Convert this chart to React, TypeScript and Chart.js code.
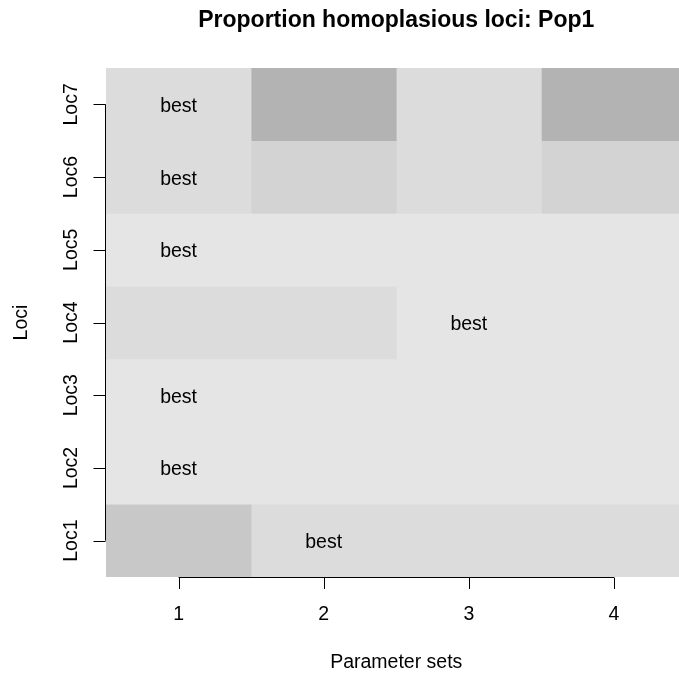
import React, { useEffect, useRef } from "react";
import { Chart, registerables } from "chart.js";

Chart.register(...registerables);

// ---- data ----
const parameterSets = [1, 2, 3, 4];
const loci = ["Loc1", "Loc2", "Loc3", "Loc4", "Loc5", "Loc6", "Loc7"];
// proportion of homoplasious loci (rows = loci, columns = parameter sets)
const loc1 = [0.3, 0.1, 0.1, 0.1];
const loc2 = [0, 0, 0, 0];
const loc3 = [0, 0, 0, 0];
const loc4 = [0.1, 0.1, 0, 0];
const loc5 = [0, 0, 0, 0];
const loc6 = [0.1, 0.2, 0.1, 0.2];
const loc7 = [0.1, 0.5, 0.1, 0.5];
const proportions = [loc1, loc2, loc3, loc4, loc5, loc6, loc7];
// parameter set marked "best" for each locus
const bestSet = [2, 1, 1, 3, 1, 1, 1];
// grey scale
const greyLevels = [0, 0.1, 0.2, 0.3, 0.5];
const greyColors = ["#E5E5E5", "#DCDCDC", "#D3D3D3", "#C8C8C8", "#B3B3B3"];

const titleText = "Proportion homoplasious loci: Pop1";
const xTitle = "Parameter sets";
const yTitle = "Loci";

const FONT = '"Liberation Sans", Arial, Helvetica, sans-serif';

function colorFor(v: number): string {
  let best = 0;
  let d = Infinity;
  greyLevels.forEach((g, i) => {
    const dd = Math.abs(g - v);
    if (dd < d) {
      d = dd;
      best = i;
    }
  });
  return greyColors[best];
}

const rAxesPlugin = {
  id: "rAxes",
  afterDraw(chart: any) {
    const ctx = chart.ctx as CanvasRenderingContext2D;
    const xs = chart.scales.x;
    const ys = chart.scales.y;
    const area = chart.chartArea;
    ctx.save();
    ctx.fillStyle = "#000";
    ctx.strokeStyle = "#000";
    ctx.lineWidth = 1;

    // "best" labels
    ctx.font = `19.5px ${FONT}`;
    ctx.textAlign = "center";
    ctx.textBaseline = "alphabetic";
    bestSet.forEach((c, i) => {
      const px = xs.getPixelForValue(c);
      const py = ys.getPixelForValue(i + 1);
      ctx.fillText("best", px, py + 7.5);
    });

    // x axis
    const axY = Math.round(area.bottom) + 0.5;
    const x0 = xs.getPixelForValue(parameterSets[0]);
    const x1 = xs.getPixelForValue(parameterSets[parameterSets.length - 1]);
    ctx.beginPath();
    ctx.moveTo(x0, axY);
    ctx.lineTo(x1, axY);
    parameterSets.forEach((p) => {
      const px = Math.round(xs.getPixelForValue(p)) + 0.5;
      ctx.moveTo(px, axY);
      ctx.lineTo(px, axY + 11.5);
    });
    ctx.stroke();
    ctx.font = `19.5px ${FONT}`;
    ctx.textAlign = "center";
    parameterSets.forEach((p) => {
      ctx.fillText(String(p), xs.getPixelForValue(p), 620);
    });
    const cx = (area.left + area.right) / 2;
    ctx.fillText(xTitle, cx, 668);

    // y axis
    const axX = Math.round(area.left) - 0.5;
    const y0 = ys.getPixelForValue(1);
    const y1 = ys.getPixelForValue(loci.length);
    ctx.beginPath();
    ctx.moveTo(axX, y0);
    ctx.lineTo(axX, y1);
    loci.forEach((_, i) => {
      const py = Math.round(ys.getPixelForValue(i + 1)) + 0.5;
      ctx.moveTo(axX, py);
      ctx.lineTo(axX - 12, py);
    });
    ctx.stroke();
    loci.forEach((l, i) => {
      const py = ys.getPixelForValue(i + 1);
      ctx.save();
      ctx.translate(77, py);
      ctx.rotate(-Math.PI / 2);
      ctx.fillText(l, 0, 0);
      ctx.restore();
    });
    const cy = (area.top + area.bottom) / 2;
    ctx.save();
    ctx.translate(27, cy);
    ctx.rotate(-Math.PI / 2);
    ctx.fillText(yTitle, 0, 0);
    ctx.restore();

    // title
    ctx.font = `bold 23px ${FONT}`;
    ctx.fillText(titleText, cx, 27);
    ctx.restore();
  },
};

export default function App() {
  const ref = useRef<HTMLCanvasElement | null>(null);
  useEffect(() => {
    if (!ref.current) return;
    const datasets = parameterSets.map((p, ci) => ({
      label: `Set ${p}`,
      data: proportions.map((row, ri) => ({ x: [p - 0.5, p + 0.5], y: ri + 1 })),
      backgroundColor: proportions.map((row) => colorFor(row[ci])),
      borderWidth: 0,
      grouped: false,
      barPercentage: 1,
      categoryPercentage: 1,
    }));
    const chart = new Chart(ref.current, {
      type: "bar",
      data: { datasets: datasets as any },
      options: {
        indexAxis: "y",
        animation: false,
        responsive: false,
        devicePixelRatio: 1,
        layout: { padding: { left: 106, right: 0.5, top: 68, bottom: 97 } },
        plugins: {
          legend: { display: false },
          tooltip: { enabled: false },
          title: { display: false },
        },
        scales: {
          x: {
            type: "linear",
            min: 0.5,
            max: 4.5,
            offset: false,
            display: false,
            afterBuildTicks: (s: any) => {
              s.ticks = parameterSets.map((v) => ({ value: v }));
            },
          },
          y: {
            type: "linear",
            min: 0.5,
            max: 7.5,
            offset: false,
            display: false,
            afterBuildTicks: (s: any) => {
              s.ticks = loci.map((_, i) => ({ value: i + 1 }));
            },
          },
        },
      },
      plugins: [rAxesPlugin],
    });
    return () => chart.destroy();
  }, []);
  return (
    <div
      style={{
        position: "fixed",
        left: 0,
        top: 0,
        width: 679,
        height: 674,
        overflow: "hidden",
        background: "#fff",
      }}
    >
      <canvas ref={ref} width={687} height={674} style={{ display: "block" }} />
    </div>
  );
}
